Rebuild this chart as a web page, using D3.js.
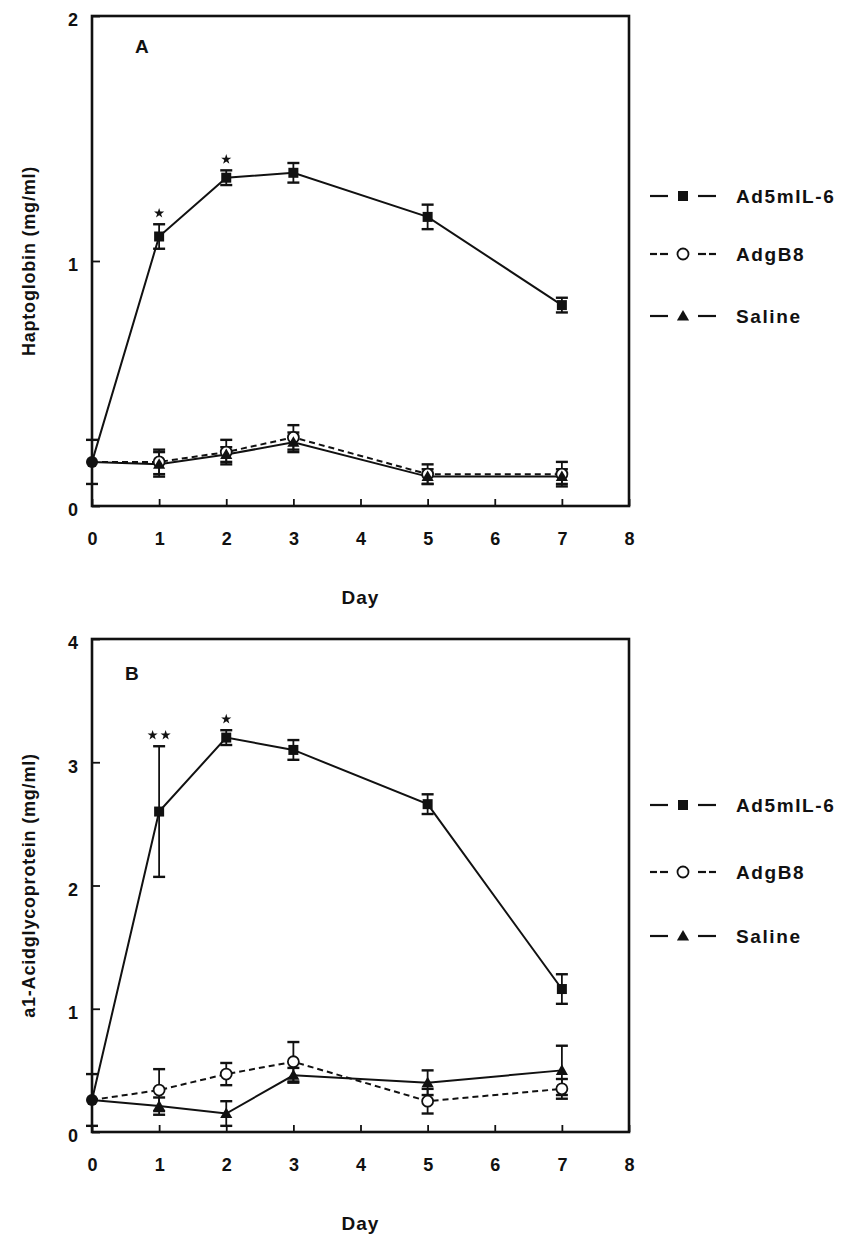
<!DOCTYPE html>
<html>
<head>
<meta charset="utf-8">
<script src="https://cdn.jsdelivr.net/npm/d3@7/dist/d3.min.js"></script>
<style>
  html, body { margin: 0; padding: 0; background: #fff; }
  svg text { font-family: "Liberation Sans", Arial, Helvetica, sans-serif; fill: #111; font-weight: bold; }
</style>
</head>
<body>
<svg id="fig" width="855" height="1234"></svg>
<script>
// Sampling days and axis ticks
const days = [0, 1, 2, 3, 5, 7];
const xTickValues = [0, 1, 2, 3, 4, 5, 6, 7, 8];
const hapTickValues = [0, 1, 2];
const agpTickValues = [0, 1, 2, 3, 4];
const seriesNames = ["Ad5mIL-6", "AdgB8", "Saline"];

// Panel A: haptoglobin (mg/ml), mean and SEM per day
const hapAd5 = [0.18, 1.10, 1.34, 1.36, 1.18, 0.82];
const hapAd5Err = [0.09, 0.05, 0.03, 0.04, 0.05, 0.03];
const hapGB8 = [0.18, 0.18, 0.22, 0.28, 0.13, 0.13];
const hapGB8Err = [0.09, 0.05, 0.05, 0.05, 0.04, 0.05];
const hapSal = [0.18, 0.17, 0.21, 0.26, 0.12, 0.12];
const hapSalErr = [0.09, 0.05, 0.03, 0.04, 0.03, 0.03];
const hapStars = [{ day: 1, count: 1 }, { day: 2, count: 1 }];

// Panel B: a1-acid glycoprotein (mg/ml), mean and SEM per day
const agpAd5 = [0.26, 2.60, 3.20, 3.10, 2.66, 1.16];
const agpAd5Err = [0.21, 0.53, 0.06, 0.08, 0.08, 0.12];
const agpGB8 = [0.26, 0.34, 0.47, 0.57, 0.25, 0.35];
const agpGB8Err = [0.21, 0.17, 0.09, 0.16, 0.10, 0.08];
const agpSal = [0.26, 0.21, 0.15, 0.46, 0.40, 0.50];
const agpSalErr = [0.21, 0.07, 0.10, 0.06, 0.10, 0.20];
const agpStars = [{ day: 1, count: 2 }, { day: 2, count: 1 }];

const svg = d3.select("#fig");
const INK = "#111";

function drawMarker(sel, kind, cx, cy) {
  if (kind === "square") {
    sel.append("rect").attr("x", cx - 5).attr("y", cy - 5).attr("width", 10).attr("height", 10).attr("fill", INK);
  } else if (kind === "circle") {
    sel.append("circle").attr("cx", cx).attr("cy", cy).attr("r", 5.5)
      .attr("fill", "#fff").attr("stroke", INK).attr("stroke-width", 1.8);
  } else {
    sel.append("path").attr("transform", `translate(${cx},${cy + 1})`)
      .attr("d", d3.symbol(d3.symbolTriangle, 64)()).attr("fill", INK);
  }
}

function panel(cfg) {
  const x = d3.scaleLinear().domain([0, 8]).range([cfg.left, cfg.right]);
  const y = d3.scaleLinear().domain([0, cfg.yMax]).range([cfg.bottom, cfg.top]);
  const g = svg.append("g");

  // frame
  g.append("rect")
    .attr("x", cfg.left).attr("y", cfg.top)
    .attr("width", cfg.right - cfg.left).attr("height", cfg.bottom - cfg.top)
    .attr("fill", "none").attr("stroke", INK).attr("stroke-width", 2.6);

  // x axis with inward ticks
  const xAxis = d3.axisBottom(x).tickValues(xTickValues).tickSize(-7).tickPadding(26)
    .tickFormat(d3.format("d"));
  const xa = g.append("g").attr("transform", `translate(0,${cfg.bottom})`).call(xAxis);
  xa.select(".domain").remove();
  xa.selectAll(".tick line").attr("stroke", INK).attr("stroke-width", 1.8);
  xa.selectAll(".tick text").attr("font-size", 18).attr("fill", INK).attr("font-family", null);

  // y axis with inward ticks
  const yAxis = d3.axisLeft(y).tickValues(cfg.yTicks).tickSize(-8).tickPadding(14)
    .tickFormat(d3.format("d"));
  const ya = g.append("g").attr("transform", `translate(${cfg.left},0)`).call(yAxis);
  ya.select(".domain").remove();
  ya.selectAll(".tick line").attr("stroke", INK).attr("stroke-width", 1.8);
  ya.selectAll(".tick text").attr("font-size", 18).attr("fill", INK).attr("dy", "0.55em").attr("font-family", null);

  // axis titles
  g.append("text").attr("x", (cfg.left + cfg.right) / 2).attr("y", cfg.bottom + 98)
    .attr("text-anchor", "middle").attr("font-size", 19).attr("letter-spacing", 1).text("Day");
  g.append("text")
    .attr("transform", `translate(${cfg.left - 57},${(cfg.top + cfg.bottom) / 2}) rotate(-90)`)
    .attr("text-anchor", "middle").attr("font-size", 18).attr("letter-spacing", 0.8).text(cfg.yTitle);

  // panel letter
  g.append("text").attr("x", cfg.left + cfg.letterDx).attr("y", cfg.top + cfg.letterDy)
    .attr("font-size", 19).text(cfg.letter);

  const series = [
    { name: seriesNames[0], v: cfg.ad5, e: cfg.ad5Err, dash: null, mark: "square" },
    { name: seriesNames[1], v: cfg.gb8, e: cfg.gb8Err, dash: "6,4", mark: "circle" },
    { name: seriesNames[2], v: cfg.sal, e: cfg.salErr, dash: null, mark: "triangle" }
  ];

  const line = d3.line().x((d, i) => x(days[i])).y(d => y(d));

  // connecting lines
  series.forEach(s => {
    g.append("path").datum(s.v).attr("d", line)
      .attr("fill", "none").attr("stroke", INK).attr("stroke-width", 2)
      .attr("stroke-dasharray", s.dash);
  });

  // error bars (the shared day-0 bar is drawn once)
  series.forEach(s => {
    const pts = days.map((d, i) => ({ d, v: s.v[i], e: s.e[i] })).filter(p => p.d > 0 || s.mark === "square");
    const eb = g.append("g").attr("stroke", INK).attr("stroke-width", 1.8);
    pts.forEach(p => {
      const cx = x(p.d);
      eb.append("line").attr("x1", cx).attr("x2", cx).attr("y1", y(p.v + p.e)).attr("y2", y(p.v - p.e));
      [p.v + p.e, p.v - p.e].forEach(val => {
        eb.append("line").attr("x1", cx - 6).attr("x2", cx + 6).attr("y1", y(val)).attr("y2", y(val))
          .attr("stroke-width", 2.4);
      });
    });
  });

  // markers
  series.forEach(s => {
    days.forEach((d, i) => {
      if (d === 0) return;
      drawMarker(g, s.mark, x(d), y(s.v[i]));
    });
  });

  // common baseline point at day 0
  g.append("circle").attr("cx", x(0)).attr("cy", y(cfg.ad5[0])).attr("r", 6).attr("fill", INK);

  // significance stars above the Ad5mIL-6 error caps
  cfg.stars.forEach(st => {
    const i = days.indexOf(st.day);
    const top = y(cfg.ad5[i] + cfg.ad5Err[i]) - 11;
    for (let k = 0; k < st.count; k++) {
      const off = (k - (st.count - 1) / 2) * 13;
      g.append("path").attr("transform", `translate(${x(st.day) + off},${top})`)
        .attr("d", d3.symbol(d3.symbolStar, 32)()).attr("fill", INK);
    }
  });

  // legend
  const lg = g.append("g");
  cfg.legendY.forEach((ly, k) => {
    const s = series[k];
    const segs = k === 1
      ? [[650, 657], [660, 668], [698, 706], [709, 716]]
      : [[650, 668], [698, 716]];
    segs.forEach(([a, b]) => {
      lg.append("line").attr("x1", a).attr("x2", b).attr("y1", ly).attr("y2", ly)
        .attr("stroke", INK).attr("stroke-width", 2.2);
    });
    drawMarker(lg, s.mark, 683, ly);
    lg.append("text").attr("x", 736).attr("y", ly).attr("dy", "0.36em")
      .attr("font-size", 19).attr("letter-spacing", 1.6).text(s.name);
  });
}

panel({
  left: 92, right: 629, top: 16, bottom: 506, yMax: 2, yTicks: hapTickValues,
  yTitle: "Haptoglobin (mg/ml)", letter: "A", letterDx: 43, letterDy: 37,
  ad5: hapAd5, ad5Err: hapAd5Err, gb8: hapGB8, gb8Err: hapGB8Err, sal: hapSal, salErr: hapSalErr,
  stars: hapStars, legendY: [196, 254, 316]
});

panel({
  left: 92, right: 629, top: 639, bottom: 1132, yMax: 4, yTicks: agpTickValues,
  yTitle: "a1-Acidglycoprotein (mg/ml)", letter: "B", letterDx: 33, letterDy: 41,
  ad5: agpAd5, ad5Err: agpAd5Err, gb8: agpGB8, gb8Err: agpGB8Err, sal: agpSal, salErr: agpSalErr,
  stars: agpStars, legendY: [805, 872, 936]
});
</script>
</body>
</html>
